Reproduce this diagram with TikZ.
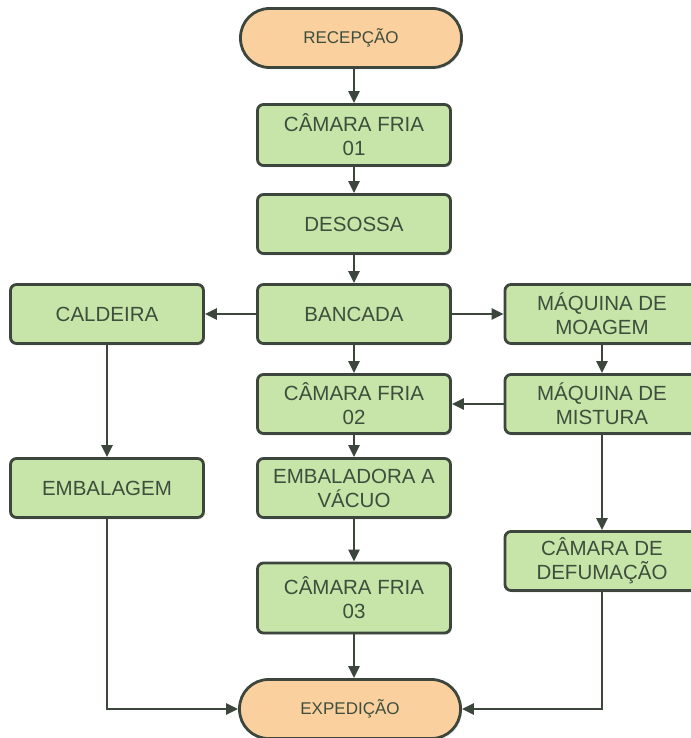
\documentclass[tikz,border=0pt]{standalone}
\usepackage{fontspec}
\setmainfont{Liberation Sans}
\usetikzlibrary{arrows.meta,shadows}
\definecolor{boxgreen}{HTML}{C7E5A9}
\definecolor{termorange}{HTML}{FAD19E}
\definecolor{edgegray}{HTML}{3D463D}
\definecolor{txtgreen}{HTML}{3E4E3C}
\tikzset{
  etapa/.style={draw=edgegray, line width=2.8pt, fill=boxgreen, rounded corners=6pt,
    minimum width=193pt, minimum height=59pt, inner sep=0pt, align=center,
    text=txtgreen, font=\fontsize{20.5}{24}\selectfont,
    drop shadow={opacity=0.15, shadow xshift=1.5pt, shadow yshift=-2pt}},
  terminal/.style={etapa, fill=termorange, rounded corners=29pt,
    minimum width=221pt, font=\fontsize{17}{20}\selectfont},
  fluxo/.style={draw=edgegray, line width=2.6pt, -{Triangle[length=12pt,width=11pt]}}
}

\begin{document}
\begin{tikzpicture}[x=1pt,y=-1pt]
  \useasboundingbox (0,0) rectangle (690,738);
  % coluna central
  \node[terminal] (rec) at (351,38) {RECEPÇÃO};
  \node[etapa,minimum height=61pt] (cf1) at (354,135) {CÂMARA FRIA\\01};
  \node[etapa] (des) at (354,224) {DESOSSA};
  \node[etapa] (ban) at (354,314) {BANCADA};
  \node[etapa] (cf2) at (354,404) {CÂMARA FRIA\\02};
  \node[etapa] (vac) at (354,488) {EMBALADORA A\\VÁCUO};
  \node[etapa,minimum height=70pt] (cf3) at (354,598) {CÂMARA FRIA\\03};
  \node[terminal] (exp) at (350,709) {EXPEDIÇÃO};
  % lados
  \node[etapa] (cal) at (107,314) {CALDEIRA};
  \node[etapa] (emb) at (107,488) {EMBALAGEM};
  \node[etapa,minimum width=194pt] (moa) at (602,314) {MÁQUINA DE\\MOAGEM};
  \node[etapa,minimum width=194pt] (mis) at (602,404) {MÁQUINA DE\\MISTURA};
  \node[etapa,minimum width=194pt] (def) at (602,561) {CÂMARA DE\\DEFUMAÇÃO};

  \draw[fluxo] (rec.south -| cf1) -- (cf1.north);
  \draw[fluxo] (cf1) -- (des);
  \draw[fluxo] (des) -- (ban);
  \draw[fluxo] (ban) -- (cf2);
  \draw[fluxo] (cf2) -- (vac);
  \draw[fluxo] (vac) -- (cf3);
  \draw[fluxo] (cf3.south) -- (cf3.south |- exp.north);
  \draw[fluxo] (ban) -- (cal);
  \draw[fluxo] (ban) -- (moa);
  \draw[fluxo] (moa) -- (mis);
  \draw[fluxo] (mis) -- (cf2);
  \draw[fluxo] (mis) -- (def);
  \draw[fluxo] (cal) -- (emb);
  \draw[fluxo] (emb.south) |- (exp.west);
  \draw[fluxo] (def.south) |- (exp.east);
\end{tikzpicture}
\end{document}
